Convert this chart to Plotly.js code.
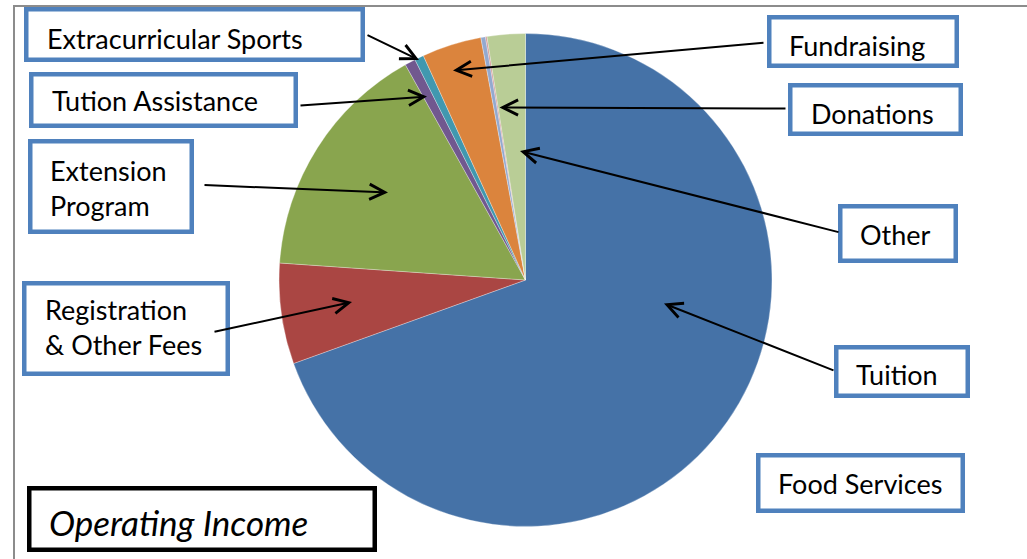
<!DOCTYPE html>
<html><head><meta charset="utf-8">
<script src="https://cdn.plot.ly/plotly-3.0.1.min.js"></script>
<style>html,body{margin:0;padding:0;background:#fff;} #chart{width:1027px;height:559px;}</style>
</head><body><div id="chart"></div>
<script>
// ---- data ----
const categories = ['Tuition', 'Registration & Other Fees', 'Extension Program', 'Tution Assistance',
  'Extracurricular Sports', 'Fundraising', 'Donations', 'Food Services', 'Other'];
const values = [69.5, 6.6, 15.8, 0.7, 0.6, 3.9, 0.3, 0.1, 2.5];
const sliceColors = ['#4572A7', '#AA4643', '#89A54E', '#71588F', '#4198AF', '#DB843D', '#93A9CF', '#D19392', '#B9CD96'];
const chartTitle = 'Operating Income';
const labelTexts = ['Extracurricular Sports', 'Tution Assistance', 'Extension<br>Program', 'Registration<br>& Other Fees',
  'Fundraising', 'Donations', 'Other', 'Tuition', 'Food Services'];

// ---- layout helpers (pixel -> paper) ----
const W = 1027, H = 559;
const X = p => p / W, Y = p => 1 - p / H;
const FONT = 'Lato, "Open Sans", sans-serif';
const FS = 27;
const BLUE = '#4F81BD';
const BW = 4.5;

// label boxes: [x0,y0,x1,y1], text left, text centre y, arrow tail, arrow tip
const labelLayout = [
  {box: [24, 7, 365, 62], tx: 45, cy: 38.5, tail: [366, 34.5], tip: [419, 60]},
  {box: [29, 72, 298, 128], tx: 50, cy: 101, tail: [299, 105.5], tip: [427, 96.5]},
  {box: [28, 139, 194, 234], tx: 48, cy: 187.5, tail: [203, 185], tip: [388, 192.5]},
  {box: [22, 281, 230, 376], tx: 43, cy: 327, tail: [213, 332], tip: [352, 302]},
  {box: [767, 15, 959, 68], tx: 787, cy: 45.5, tail: [765, 42.5], tip: [453, 70.5]},
  {box: [788, 83, 963, 136], tx: 809, cy: 113, tail: [787, 108.5], tip: [499.5, 107.5]},
  {box: [838, 204, 958, 263], tx: 858, cy: 234.5, tail: [840, 232.5], tip: [520, 151]},
  {box: [834, 345, 970, 398], tx: 854, cy: 374.7, tail: [835, 371], tip: [664, 303.5]},
  {box: [756, 453, 965, 513], tx: 776, cy: 483.7, tail: null, tip: null}
];
const titleLayout = {box: [27, 486, 377, 552], tx: 47, cy: 522};

const shapes = [];
const annotations = [];

// outer frame (gray)
shapes.push({type: 'path', xref: 'paper', yref: 'paper',
  path: `M ${X(14)} ${Y(559)} L ${X(14)} ${Y(6)} L ${X(1027)} ${Y(6)}`,
  line: {color: '#8c8c8c', width: 2}});

function addBox(b, color) {
  const h = BW / 2;
  shapes.push({type: 'rect', xref: 'paper', yref: 'paper',
    x0: X(b[0] + h), x1: X(b[2] - h), y0: Y(b[1] + h), y1: Y(b[3] - h),
    line: {color: color, width: BW}, fillcolor: '#ffffff', layer: 'above'});
}

labelLayout.forEach((L, i) => {
  addBox(L.box, BLUE);
  annotations.push({xref: 'paper', yref: 'paper', x: X(L.tx), y: Y(L.cy),
    xanchor: 'left', yanchor: 'middle', align: 'left', showarrow: false,
    text: labelTexts[i], font: {family: FONT, size: FS, color: '#000'}});
  if (L.tail) {
    annotations.push({xref: 'paper', yref: 'paper', x: X(L.tip[0]), y: Y(L.tip[1]),
      ax: L.tail[0] - L.tip[0], ay: L.tail[1] - L.tip[1], axref: 'pixel', ayref: 'pixel',
      text: '', showarrow: true, arrowhead: 5, arrowsize: 1.5, arrowwidth: 2, arrowcolor: '#000', standoff: 0});
  }
});

addBox(titleLayout.box, '#000');
annotations.push({xref: 'paper', yref: 'paper', x: X(titleLayout.tx), y: Y(titleLayout.cy),
  xanchor: 'left', yanchor: 'middle', showarrow: false, text: chartTitle,
  font: {family: FONT, size: 35, color: '#000', style: 'italic'}});

// pie centre (525.5, 280), radius 246.5
const data = [{
  type: 'pie', labels: categories, values: values, sort: false, direction: 'clockwise', rotation: 0,
  marker: {colors: sliceColors, line: {color: 'rgba(255,255,255,0.5)', width: 0.6}},
  textinfo: 'none', hoverinfo: 'none', showlegend: false,
  domain: {x: [X(525.5 - 300), X(525.5 + 300)], y: [Y(280 + 246.5), Y(280 - 246.5)]}
}];

const layout = {width: W, height: H, margin: {l: 0, r: 0, t: 0, b: 0},
  paper_bgcolor: '#fff', plot_bgcolor: '#fff', showlegend: false,
  shapes: shapes, annotations: annotations};

Plotly.newPlot('chart', data, layout, {staticPlot: true, displayModeBar: false});
</script></body></html>
